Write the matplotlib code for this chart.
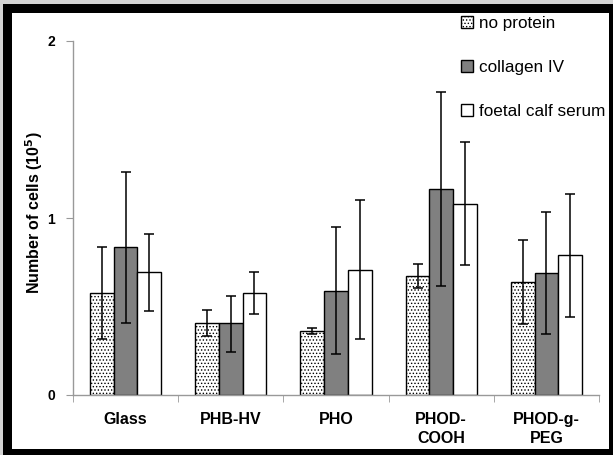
import matplotlib
matplotlib.use("Agg")
import matplotlib.pyplot as plt
import numpy as np
from matplotlib.patches import Rectangle, Patch

categories = ["Glass", "PHB-HV", "PHO", "PHOD-\nCOOH", "PHOD-g-\nPEG"]
series_names = ["no protein", "collagen IV", "foetal calf serum"]

no_protein = [0.575, 0.408, 0.363, 0.670, 0.638]
no_protein_lo = [0.316, 0.331, 0.346, 0.605, 0.400]
no_protein_hi = [0.834, 0.482, 0.380, 0.740, 0.876]

collagen = [0.834, 0.407, 0.589, 1.166, 0.687]
collagen_lo = [0.407, 0.245, 0.230, 0.617, 0.345]
collagen_hi = [1.262, 0.561, 0.950, 1.710, 1.032]

fcs = [0.693, 0.575, 0.706, 1.081, 0.789]
fcs_lo = [0.474, 0.458, 0.316, 0.734, 0.440]
fcs_hi = [0.907, 0.693, 1.100, 1.427, 1.137]

yticks = [0, 1, 2]

plt.rcParams['font.family'] = ['Liberation Sans', 'DejaVu Sans']
plt.rcParams['hatch.linewidth'] = 0.6
plt.rcParams['hatch.color'] = '#555555'

W, H = 613, 455
fig = plt.figure(figsize=(W / 100, H / 100), dpi=100)
fig.patch.set_facecolor('#d4d4d4')

def px_rect(x0, y0, x1, y1, color, z):
    fig.patches.append(Rectangle((x0 / W, 1 - y1 / H), (x1 - x0) / W, (y1 - y0) / H,
                                 transform=fig.transFigure, facecolor=color,
                                 edgecolor='none', zorder=z))

px_rect(3, 4, 613, 455, 'black', -2)
px_rect(12, 13, 609, 449, 'white', -1)

ax = fig.add_axes([73 / W, 1 - 395 / H, (599 - 73) / W, (395 - 41) / H])
ax.set_facecolor('none')

x = np.arange(len(categories))
bw = 0.225
styles = [
    dict(facecolor='white', hatch='.....', edgecolor='black'),
    dict(facecolor='#808080', edgecolor='black'),
    dict(facecolor='white', edgecolor='black'),
]
vals = [no_protein, collagen, fcs]
los = [no_protein_lo, collagen_lo, fcs_lo]
his = [no_protein_hi, collagen_hi, fcs_hi]
for i in range(3):
    pos = x + (i - 1) * bw
    v = np.array(vals[i])
    ax.bar(pos, v, width=bw, linewidth=1.0, zorder=2, **styles[i])
    yerr = np.vstack([v - np.array(los[i]), np.array(his[i]) - v])
    ax.errorbar(pos, v, yerr=yerr, fmt='none', ecolor='black', elinewidth=1.1,
                capsize=3.5, capthick=1.1, zorder=3)

ax.set_xlim(-0.5, len(categories) - 0.5)
ax.set_ylim(0, 2)
ax.set_yticks(yticks)
ax.set_yticklabels([str(t) for t in yticks], fontsize=10, fontweight='bold')
ax.set_xticks(x)
ax.set_xticklabels(categories, fontsize=11.5, fontweight='bold', linespacing=1.35)
ax.set_xticks(np.arange(len(categories) + 1) - 0.5, minor=True)
ax.tick_params(axis='x', which='major', length=0, pad=12)
ax.tick_params(axis='x', which='minor', length=5, color='#999999', direction='out')
ax.tick_params(axis='y', length=5, color='#999999', direction='out', pad=8)
for s in ['top', 'right']:
    ax.spines[s].set_visible(False)
for s in ['left', 'bottom']:
    ax.spines[s].set_color('#999999')
    ax.spines[s].set_linewidth(1.0)

ax.set_ylabel(r'Number of cells (10$^{\mathbf{5}}$)', fontsize=11.5, fontweight='bold')
ax.yaxis.set_label_coords(45 / W, 1 - 213 / H, transform=fig.transFigure)

handles = [Patch(label=series_names[i], linewidth=1.0, **styles[i]) for i in range(3)]
fig.legend(handles=handles, loc='upper left', bbox_to_anchor=(452 / W, 1 - 7 / H),
           frameon=False, fontsize=12.3, handlelength=0.7, handleheight=0.7,
           handletextpad=0.4, labelspacing=1.7, borderpad=0)

fig.savefig('out.png', dpi=100, facecolor=fig.get_facecolor())
